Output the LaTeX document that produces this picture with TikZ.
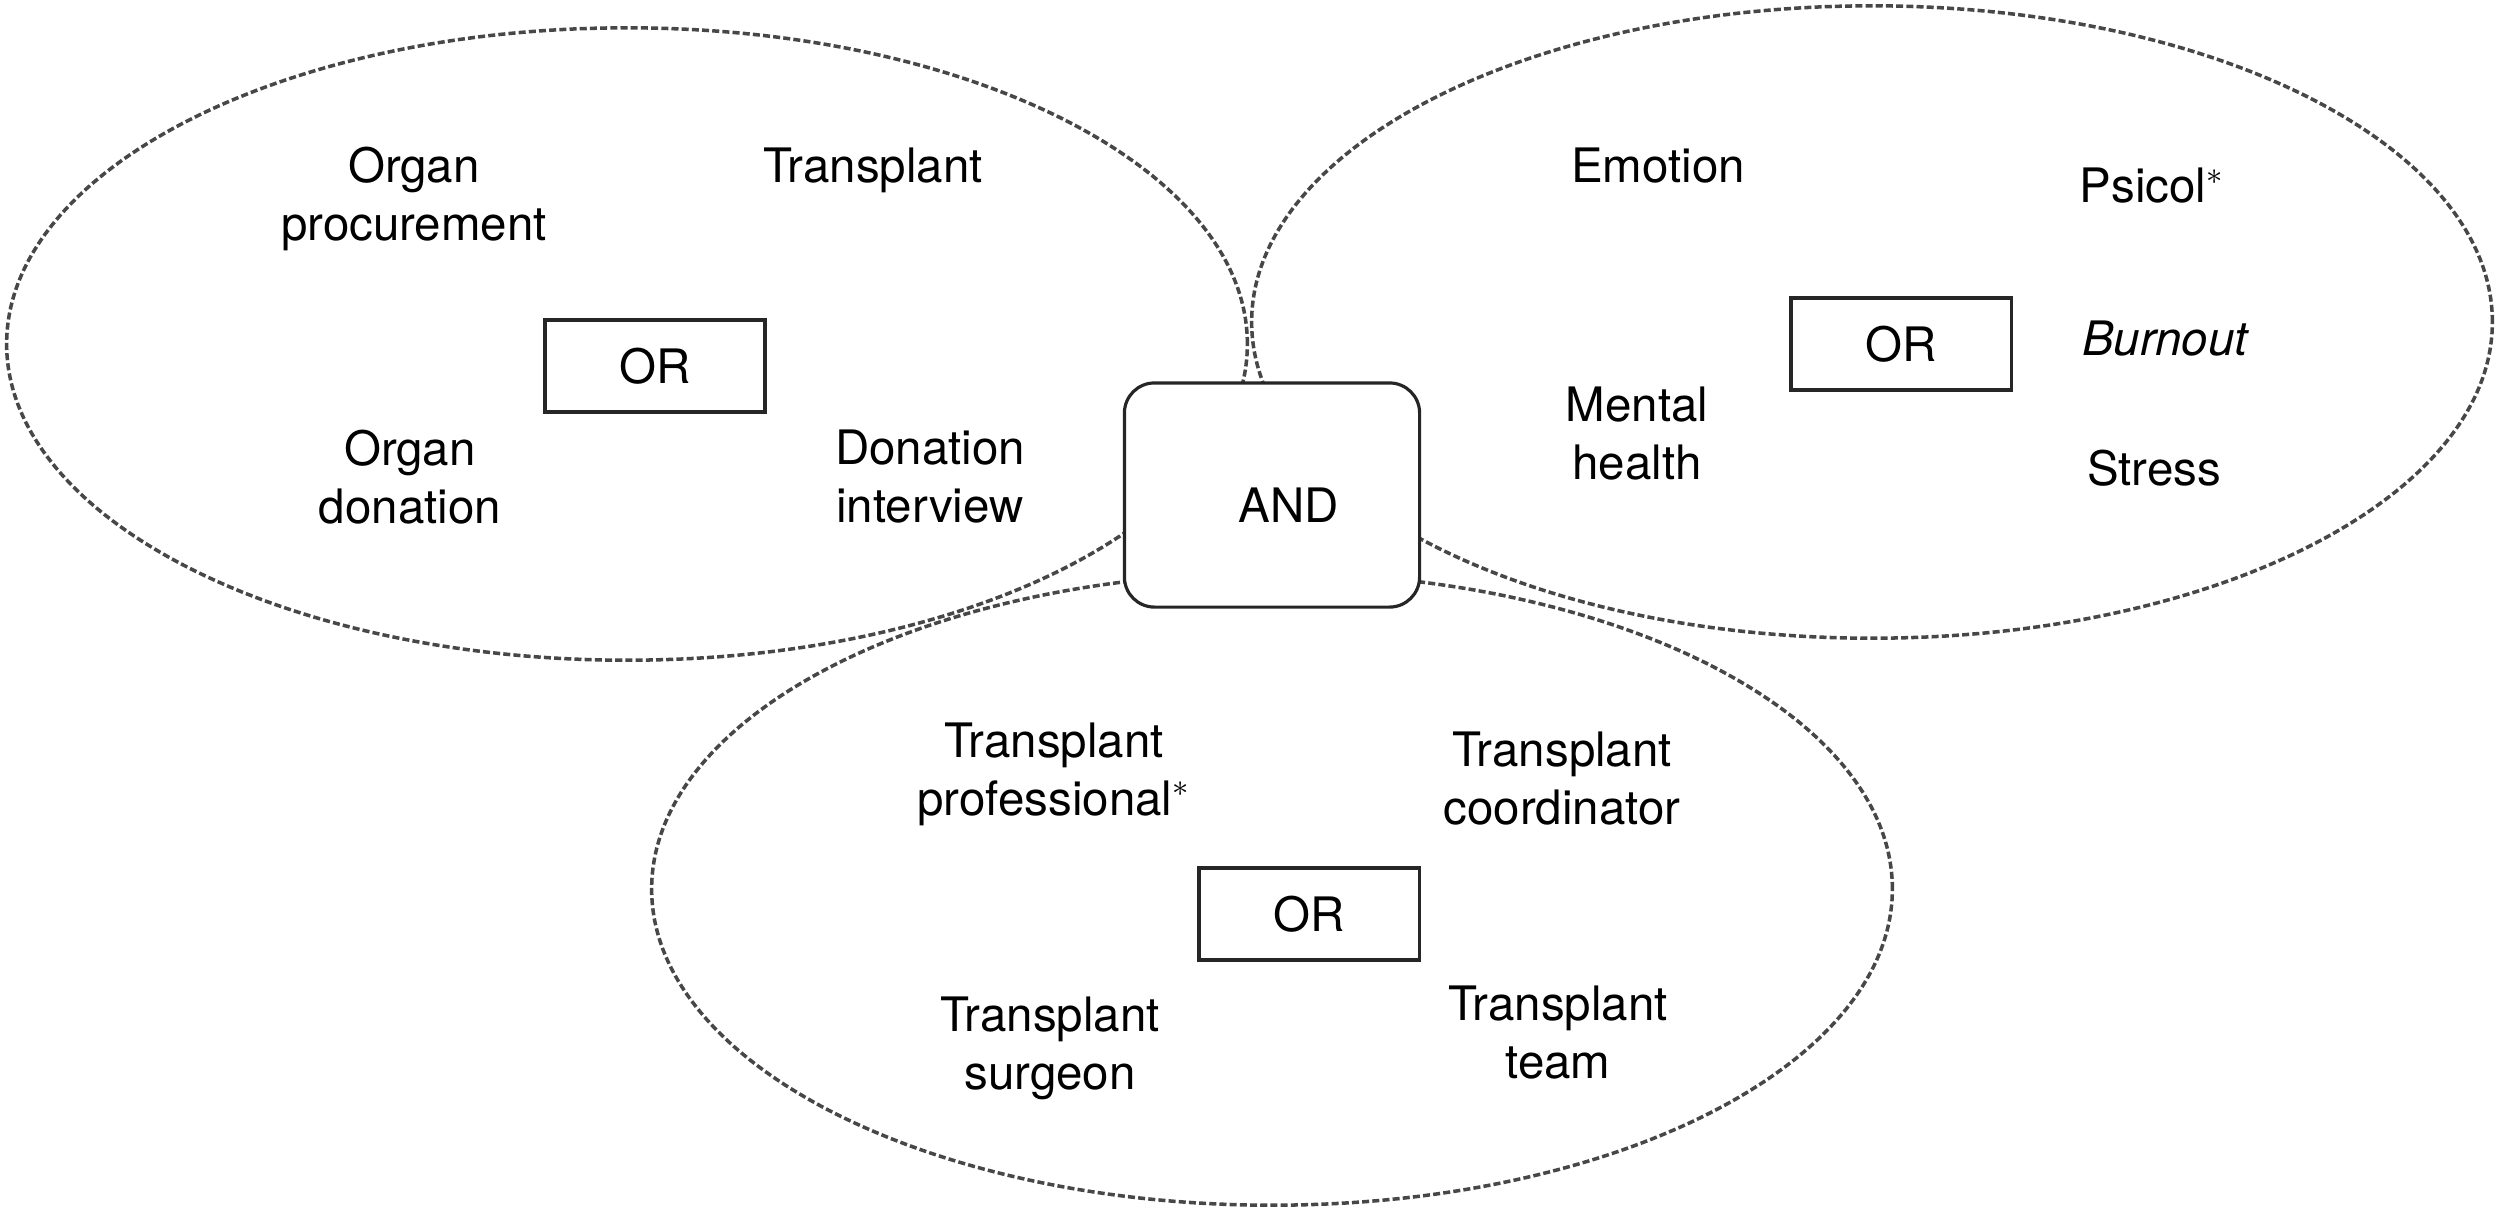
\documentclass[tikz,border=0pt]{standalone}
\usepackage{fontspec}
\setmainfont{TeX Gyre Heros}
\usetikzlibrary{shapes.geometric}

\begin{document}
\begin{tikzpicture}[x=0.01cm, y=-0.01cm,
    conjunto/.style={draw=black!72, ellipse, line width=1pt, dash pattern=on 2pt off 0.9pt,
      minimum width=12.4cm, minimum height=6.32cm, inner sep=0pt},
    termo/.style={align=center, inner sep=0pt, font=\fontsize{13.5}{16.5}\selectfont},
    orbox/.style={draw=black!85, line width=0.9pt, fill=white, minimum width=2.2cm,
      minimum height=0.92cm, font=\fontsize{13.5}{16.5}\selectfont},
    andbox/.style={draw=black!85, line width=0.9pt, fill=white, rounded corners=0.3cm,
      minimum width=2.95cm, minimum height=2.24cm}]
  \useasboundingbox (0,0) rectangle (2500,1211);

  % Conjuntos
  \node[conjunto] (setL) at (627,344) {};
  \node[conjunto] (setR) at (1872,322) {};
  \node[conjunto] (setB) at (1272,889) {};

  % Termos do conjunto da esquerda
  \node[termo] (procure) at (414,199) {Organ\\procurement};
  \node[termo] (transp) at (873,170) {Transplant};
  \node[orbox] (orL) at (655,366) {OR};
  \node[termo] (donat) at (410,477) {Organ\\donation};
  \node[termo] (interv) at (930,477) {Donation\\interview};

  % Termos do conjunto da direita
  \node[termo] (emot) at (1658,166) {Emotion};
  \node[termo] (psicol) at (2152,186) {Psicol$^{*}$};
  \node[orbox] (orR) at (1901,344) {OR};
  \node[termo] (burn) at (2165,339) {\itshape Burnout};
  \node[termo] (mental) at (1637,434) {Mental\\health};
  \node[termo] (stress) at (2154,468) {Stress};

  % Termos do conjunto de baixo
  \node[termo] (prof) at (1054,774) {Transplant\\professional$^{*}$};
  \node[termo] (coord) at (1562,779) {Transplant\\coordinator};
  \node[orbox] (orB) at (1309,914) {OR};
  \node[termo] (surg) at (1050,1048) {Transplant\\surgeon};
  \node[termo] (team) at (1558,1033) {Transplant\\team};

  % Operador central
  \node[andbox, label={[termo, xshift=0.17cm, yshift=-0.1cm]center:AND}] (and) at (1272,495) {};
\end{tikzpicture}
\end{document}
